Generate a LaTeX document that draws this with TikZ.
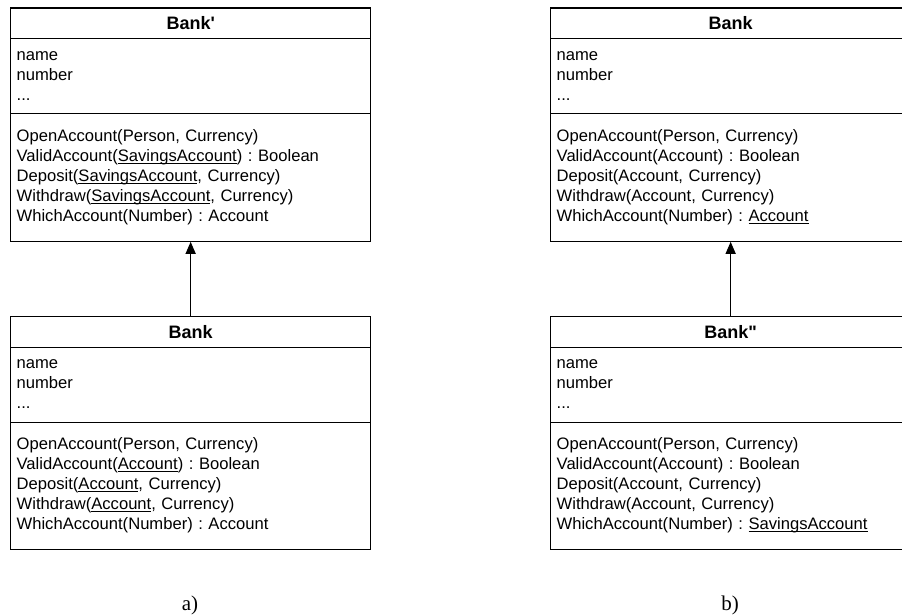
\documentclass[tikz,border=0pt]{standalone}
\usepackage{fontspec}
\setmainfont{Liberation Sans}[Ligatures=TeXOff]
\newfontfamily\capfont{Liberation Serif}
\usetikzlibrary{arrows.meta}
\frenchspacing

% underline sitting just below the baseline
\newcommand\uln[1]{\setbox0\hbox{#1}\rlap{\rule[-2.2pt]{\wd0}{0.9pt}}\box0}

\tikzset{
  compart/.style={draw, line width=1.3pt, anchor=north west, inner ysep=0pt},
  umltitle/.style={compart, minimum width=360pt, minimum height=30.5pt, inner xsep=0pt,
    font=\bfseries\fontsize{18}{20}\selectfont},
  umlattr/.style={compart, minimum height=75pt, text width=348pt, inner xsep=6pt,
    align=left, font=\fontsize{16.6}{20}\selectfont},
  umlops/.style={compart, minimum height=127.5pt, text width=348pt, inner xsep=6pt,
    align=left, font=\fontsize{16.6}{20}\selectfont},
  inherit/.style={line width=1.3pt, -{Triangle[length=12pt,width=10pt]}},
  caption/.style={anchor=base, font=\capfont\fontsize{21}{24}\selectfont}
}

\begin{document}
\begin{tikzpicture}[x=1pt,y=-1pt]
\useasboundingbox (0,0) rectangle (902,615);
\clip (0,0) rectangle (902,615);

% ---- a) Bank' (top)
\node[umltitle] (aTopT) at (10,7.5) {Bank'};
\node[umlattr] (aTopA) at (10,38) {\strut name\\\strut number\\\strut ...};
\node[umlops] (aTopO) at (10,113) {\strut OpenAccount(Person, Currency)\\
  \strut ValidAccount(\uln{SavingsAccount}) : Boolean\\
  \strut Deposit(\uln{SavingsAccount}, Currency)\\
  \strut Withdraw(\uln{SavingsAccount}, Currency)\\
  \strut WhichAccount(Number) : Account};

% ---- a) Bank (bottom)
\node[umltitle] (aBotT) at (10,316) {Bank};
\node[umlattr] (aBotA) at (10,346.5) {\strut name\\\strut number\\\strut ...};
\node[umlops] (aBotO) at (10,421.5) {\strut OpenAccount(Person, Currency)\\
  \strut ValidAccount(\uln{Account}) : Boolean\\
  \strut Deposit(\uln{Account}, Currency)\\
  \strut Withdraw(\uln{Account}, Currency)\\
  \strut WhichAccount(Number) : Account};

% ---- b) Bank (top)
\node[umltitle] (bTopT) at (550,7.5) {Bank};
\node[umlattr] (bTopA) at (550,38) {\strut name\\\strut number\\\strut ...};
\node[umlops] (bTopO) at (550,113) {\strut OpenAccount(Person, Currency)\\
  \strut ValidAccount(Account) : Boolean\\
  \strut Deposit(Account, Currency)\\
  \strut Withdraw(Account, Currency)\\
  \strut WhichAccount(Number) : \uln{Account}};

% ---- b) Bank'' (bottom)
\node[umltitle] (bBotT) at (550,316) {Bank"};
\node[umlattr] (bBotA) at (550,346.5) {\strut name\\\strut number\\\strut ...};
\node[umlops] (bBotO) at (550,421.5) {\strut OpenAccount(Person, Currency)\\
  \strut ValidAccount(Account) : Boolean\\
  \strut Deposit(Account, Currency)\\
  \strut Withdraw(Account, Currency)\\
  \strut WhichAccount(Number) : \uln{SavingsAccount}};

% generalisation arrows
\draw[inherit] (aBotT.north) -- (aTopO.south);
\draw[inherit] (bBotT.north) -- (bTopO.south);

% captions
\node[caption] (capA) at (190,610) {a)};
\node[caption] (capB) at (730,610) {b)};
\end{tikzpicture}
\end{document}
